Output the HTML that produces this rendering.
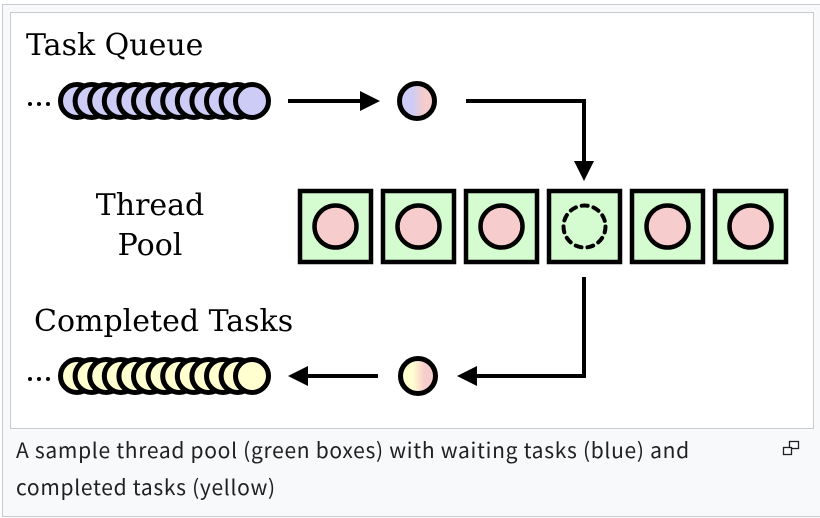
<!DOCTYPE html>
<html><head><style>
html,body{margin:0;padding:0;background:#fff;}
body{width:820px;height:518px;overflow:hidden;position:relative;}
.outer{position:absolute;left:2px;top:4px;width:830px;height:511px;background:#f8f9fa;border:1px solid #c8ccd1;}
.inner{position:absolute;left:10px;top:12px;width:802px;height:415px;background:#fff;border:1px solid #c8ccd1;}
.cap{position:absolute;left:16px;top:432px;width:760px;font:21px/37px "Noto Sans CJK KR","Liberation Sans",sans-serif;letter-spacing:0.7px;color:#202122;}
svg{position:absolute;left:0;top:0;}
</style></head><body>
<div class="outer"></div>
<div class="inner"></div>
<div class="cap">A sample thread pool (green boxes) with waiting tasks (blue) and<br>completed tasks (yellow)</div>
<svg width="820" height="518" viewBox="0 0 820 518">
<defs>
<linearGradient id="bp" x1="0" x2="1"><stop offset="0.35" stop-color="#ccccf6"/><stop offset="0.7" stop-color="#f6cccc"/></linearGradient>
<linearGradient id="yp" x1="0" x2="1"><stop offset="0.35" stop-color="#ffffd0"/><stop offset="0.7" stop-color="#f6cccc"/></linearGradient>
</defs>
<g font-family="DejaVu Serif, serif" font-size="30" fill="#000">
<text x="26" y="55">Task Queue</text>
<text x="150" y="215" text-anchor="middle">Thread</text>
<text x="150" y="255" text-anchor="middle">Pool</text>
<text x="34" y="331">Completed Tasks</text>
</g>
<g fill="#000"><circle cx="30" cy="104" r="2"/><circle cx="39" cy="104" r="2"/><circle cx="48" cy="104" r="2"/>
<circle cx="30" cy="379" r="2"/><circle cx="39" cy="379" r="2"/><circle cx="48" cy="379" r="2"/></g>
<g stroke="#000" stroke-width="5" fill="#ccccf6">
<circle cx="77" cy="101" r="16.5"/><circle cx="91.6" cy="101" r="16.5"/><circle cx="106.2" cy="101" r="16.5"/><circle cx="120.8" cy="101" r="16.5"/><circle cx="135.4" cy="101" r="16.5"/><circle cx="150" cy="101" r="16.5"/><circle cx="164.6" cy="101" r="16.5"/><circle cx="179.2" cy="101" r="16.5"/><circle cx="193.8" cy="101" r="16.5"/><circle cx="208.4" cy="101" r="16.5"/><circle cx="223" cy="101" r="16.5"/><circle cx="237.6" cy="101" r="16.5"/><circle cx="252" cy="101" r="16.5"/>
</g>
<g stroke="#000" stroke-width="5" fill="#ffffd0">
<circle cx="77" cy="376" r="16.5"/><circle cx="91.6" cy="376" r="16.5"/><circle cx="106.2" cy="376" r="16.5"/><circle cx="120.8" cy="376" r="16.5"/><circle cx="135.4" cy="376" r="16.5"/><circle cx="150" cy="376" r="16.5"/><circle cx="164.6" cy="376" r="16.5"/><circle cx="179.2" cy="376" r="16.5"/><circle cx="193.8" cy="376" r="16.5"/><circle cx="208.4" cy="376" r="16.5"/><circle cx="223" cy="376" r="16.5"/><circle cx="237.6" cy="376" r="16.5"/><circle cx="252" cy="376" r="16.5"/>
</g>
<circle cx="417" cy="101" r="17.5" fill="url(#bp)" stroke="#000" stroke-width="5"/>
<circle cx="418" cy="376" r="17.5" fill="url(#yp)" stroke="#000" stroke-width="5"/>
<g stroke="#000" stroke-width="4" fill="none">
<path d="M288 101H362"/><path d="M466 101H584V162"/><path d="M584 277V376H476"/><path d="M378 376H306"/>
</g>
<g fill="#000">
<path d="M380 101L360 91V111Z"/><path d="M584 181L574 161H594Z"/><path d="M457 376L477 366V386Z"/><path d="M288 376L308 366V386Z"/>
</g>
<g stroke="#000" stroke-width="4.5" fill="#d4fcd0">
<rect x="300" y="191" width="71" height="71"/><rect x="383" y="191" width="71" height="71"/><rect x="466" y="191" width="71" height="71"/><rect x="549" y="191" width="71" height="71"/><rect x="632" y="191" width="71" height="71"/><rect x="715" y="191" width="71" height="71"/>
</g>
<g stroke="#000" stroke-width="4.5" fill="#f6cccc">
<circle cx="335.5" cy="226.5" r="21"/><circle cx="418.5" cy="226.5" r="21"/><circle cx="501.5" cy="226.5" r="21"/><circle cx="667.5" cy="226.5" r="21"/><circle cx="750.5" cy="226.5" r="21"/>
</g>
<circle cx="584.5" cy="226.5" r="21" fill="none" stroke="#000" stroke-width="4" stroke-dasharray="6 6" stroke-linecap="round"/>
<g stroke="#202122" stroke-width="1.3" fill="#fff">
<rect x="789.5" y="441.5" width="9" height="7"/><rect x="783.5" y="447.5" width="8" height="7"/>
</g>
</svg>
</body></html>
